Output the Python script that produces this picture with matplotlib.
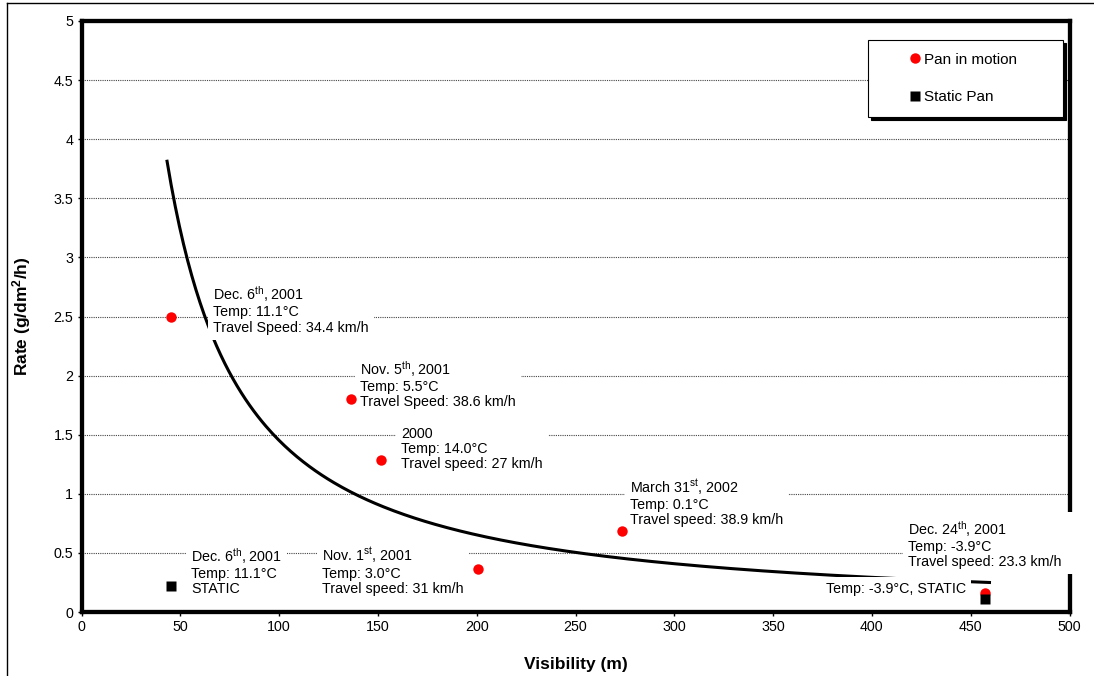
import numpy as np
import matplotlib
matplotlib.use("Agg")
import matplotlib.pyplot as plt
from matplotlib.lines import Line2D
from matplotlib.patches import Rectangle

plt.rcParams["font.family"] = ["Liberation Sans", "DejaVu Sans"]
plt.rcParams["mathtext.fontset"] = "custom"
plt.rcParams["mathtext.rm"] = "Liberation Sans"
plt.rcParams["mathtext.it"] = "Liberation Sans:italic"
plt.rcParams["mathtext.bf"] = "Liberation Sans:bold"

# measured deposition rates
motion_vis = [45.3, 136.5, 151.4, 200.8, 273.7, 457.4]
motion_rate = [2.50, 1.80, 1.29, 0.36, 0.685, 0.16]
static_vis = [45.3, 457.4]
static_rate = [0.22, 0.11]

# power trendline  rate = a * vis^b
trend_a = 295.0
trend_b = -1.154
trend_start, trend_end = 43.3, 459.5

# point notes: (x, y of middle line, text)
notes = [
    (66.6, 2.56, "Dec. 6$^{\\mathrm{th}}$, 2001\nTemp: 11.1°C\nTravel Speed: 34.4 km/h"),
    (141.0, 1.93, "Nov. 5$^{\\mathrm{th}}$, 2001\nTemp: 5.5°C\nTravel Speed: 38.6 km/h"),
    (161.8, 1.38, "2000\nTemp: 14.0°C\nTravel speed: 27 km/h"),
    (55.4, 0.347, "Dec. 6$^{\\mathrm{th}}$, 2001\nTemp: 11.1°C\nSTATIC"),
    (121.8, 0.347, "Nov. 1$^{\\mathrm{st}}$, 2001\nTemp: 3.0°C\nTravel speed: 31 km/h"),
    (277.7, 0.93, "March 31$^{\\mathrm{st}}$, 2002\nTemp: 0.1°C\nTravel speed: 38.9 km/h"),
    # trailing spaces widen the white box over the right spine
    (418.5, 0.575, "Dec. 24$^{\\mathrm{th}}$, 2001\nTemp: -3.9°C\nTravel speed: 23.3 km/h  "),
]
static_note = (447.8, 0.195, "Temp: -3.9°C, STATIC")

W, H = 1094, 676
fig = plt.figure(figsize=(W / 100, H / 100), dpi=100)
ax = fig.add_axes([81.5 / W, 1 - 612 / H, (1069.5 - 81.5) / W, (612 - 21) / H])


def px(x, y):
    return x / W, 1 - y / H


ax.set_xlim(0, 500)
ax.set_ylim(0, 5)
ax.set_xticks(np.arange(0, 501, 50))
ax.set_yticks(np.arange(0, 5.01, 0.5))
ax.set_yticklabels(["0", "0.5", "1", "1.5", "2", "2.5", "3", "3.5", "4", "4.5", "5"])
ax.tick_params(labelsize=10.3, length=3, width=1, pad=3)
ax.yaxis.grid(True, color="#444444", linestyle=(0, (1, 1)), linewidth=0.8)
ax.set_axisbelow(True)
for s in ax.spines.values():
    s.set_linewidth(3.1)

tx = np.linspace(trend_start, trend_end, 400)
ax.plot(tx, trend_a * tx ** trend_b, color="black", lw=2.2, zorder=2)

ax.plot(motion_vis, motion_rate, "o", color="#ff0000", ms=7.5, mec="none",
        zorder=6, label="Pan in motion")
ax.plot(static_vis, static_rate, "s", color="black", ms=7, mec="none",
        zorder=7, label="Static Pan")

box = dict(boxstyle="square,pad=0.35", facecolor="white", edgecolor="none")
for x, y, t in notes:
    ax.text(x, y, t, fontsize=10.3, ha="left", va="center", linespacing=1.12,
            bbox=box, zorder=5, clip_on=False)
ax.text(static_note[0], static_note[1], static_note[2], fontsize=10.3,
        ha="right", va="center", zorder=5, bbox=box)

ax.set_xlabel("Visibility (m)", fontsize=12.5, fontweight="bold")
ax.set_ylabel("Rate (g/dm$^\\mathbf{2}$/h)", fontsize=12.5, fontweight="bold")
ax.xaxis.set_label_coords(0.5, -0.076)
ax.yaxis.set_label_coords(-0.049, 0.5)

# legend frame with drop shadow
x0, y0 = px(868, 117)
x1, y1 = px(1063, 40)
dx, dy = 2.5 / W, 2.5 / H
fig.add_artist(Rectangle((x0 + dx, y0 - dy), x1 - x0, y1 - y0, transform=fig.transFigure,
                         facecolor="black", edgecolor="black", lw=0.8, zorder=1))
fig.add_artist(Rectangle((x0, y0), x1 - x0, y1 - y0, transform=fig.transFigure,
                         facecolor="white", edgecolor="black", lw=0.8, zorder=2))
fig.legend(loc="center", bbox_to_anchor=px(962, 78.5), frameon=False, fontsize=11,
           handlelength=1.0, handletextpad=0.1, labelspacing=1.55, borderpad=0)

# outer border, top and left edges
fig.add_artist(Line2D([7 / W, 7 / W], [0, 1 - 3 / H], transform=fig.transFigure,
                      color="black", lw=1))
fig.add_artist(Line2D([7 / W, 1], [1 - 3 / H, 1 - 3 / H], transform=fig.transFigure,
                      color="black", lw=1))

fig.savefig("out.png", dpi=100)
